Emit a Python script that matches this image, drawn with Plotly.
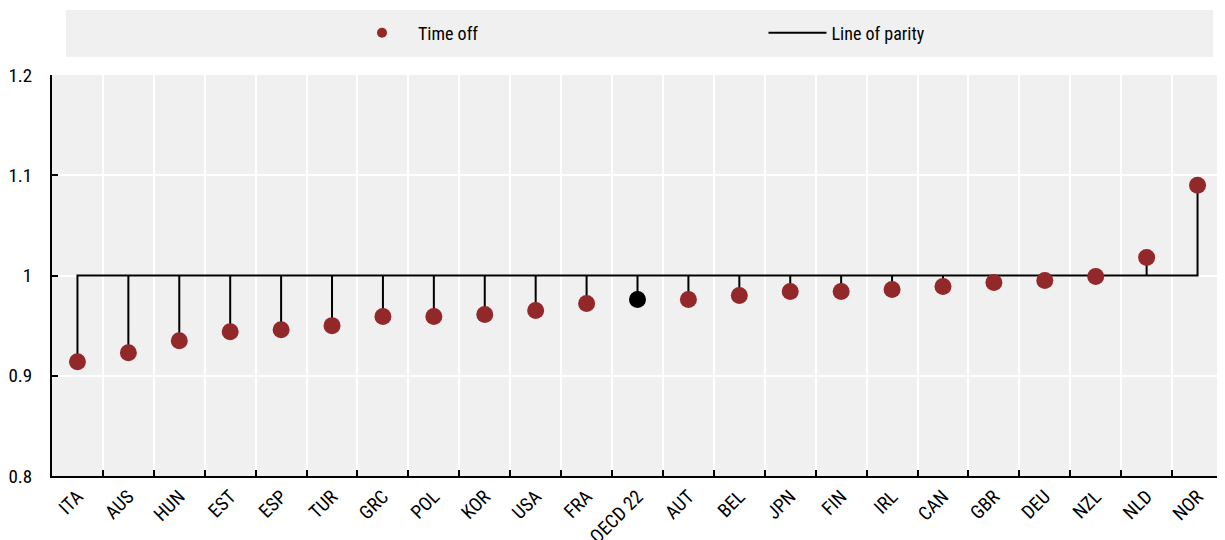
import plotly.graph_objects as go

countries = ["ITA", "AUS", "HUN", "EST", "ESP", "TUR", "GRC", "POL", "KOR", "USA", "FRA",
             "OECD 22", "AUT", "BEL", "JPN", "FIN", "IRL", "CAN", "GBR", "DEU", "NZL", "NLD", "NOR"]
time_off = [0.914, 0.923, 0.935, 0.944, 0.946, 0.950, 0.959, 0.959, 0.961, 0.965, 0.972,
            0.976, 0.976, 0.980, 0.984, 0.984, 0.986, 0.989, 0.993, 0.995, 0.999, 1.018, 1.090]
parity = 1.0
y_ticks = [0.8, 0.9, 1.0, 1.1, 1.2]
y_tick_text = ["0.8", "0.9", "1", "1.1", "1.2"]

RED = "#93282a"
FONT = "Roboto Condensed, Arial Narrow, Liberation Sans Narrow, Liberation Sans, sans-serif"

# parity line: horizontal line at 1 with drops to each point
lx, ly = [], []
for c, v in zip(countries, time_off):
    lx += [c, c, c]
    ly += [parity, v, parity]

colors = ["#000000" if c == "OECD 22" else RED for c in countries]

fig = go.Figure()
fig.add_trace(go.Scatter(x=lx, y=ly, mode="lines", line=dict(color="black", width=2),
                         name="Line of parity", showlegend=False, hoverinfo="skip"))
fig.add_trace(go.Scatter(x=countries, y=time_off, mode="markers",
                         marker=dict(color=colors, size=17), name="Time off", showlegend=False))
# legend entries
fig.add_trace(go.Scatter(x=[countries[0]], y=[None], mode="markers", marker=dict(color=RED, size=10),
                         name="Time off", legend="legend"))
fig.add_trace(go.Scatter(x=[countries[0]], y=[None], mode="lines", line=dict(color="black", width=2),
                         name="Line of parity", legend="legend2"))

# page body has an 8px margin: compensate so the plot lands where the reference has it
OFF = 8
W, H = 1225 - OFF, 540 - OFF
PL, PR, PT, PB = 52, 1223, 75, 476   # plot area in window pixels
L, R, T, B = PL - OFF, 1225 - PR, PT - OFF, 540 - PB
pw, ph = PR - PL, PB - PT

def px_x(x):
    return (x - PL) / pw

def px_y(y):
    return (PB - y) / ph

fig.add_shape(type="rect", xref="paper", yref="paper",
              x0=px_x(66), x1=px_x(1213), y0=px_y(57), y1=px_y(10),
              fillcolor="#f0f0f0", line=dict(width=0), layer="below")

leg_common = dict(orientation="h", xanchor="left", yanchor="middle", y=px_y(33),
                  bgcolor="rgba(0,0,0,0)", font=dict(size=18))
fig.update_layout(
    width=W, height=H,
    margin=dict(l=L, r=R, t=T, b=B),
    paper_bgcolor="white", plot_bgcolor="#f0f0f0",
    font=dict(family=FONT, size=18, color="#000"),
    legend=dict(x=px_x(346), itemwidth=62, **leg_common),
    legend2=dict(x=px_x(763.5), itemwidth=58, **leg_common),
    showlegend=True,
    xaxis=dict(type="category", categoryorder="array", categoryarray=countries,
               range=[-0.5, len(countries) - 0.5], automargin=False,
               tickson="boundaries", showgrid=True, gridcolor="white", gridwidth=2,
               showline=True, linecolor="black", linewidth=2,
               ticks="inside", ticklen=6, tickwidth=2, tickcolor="black",
               tickangle=-45, tickfont=dict(size=19), zeroline=False),
    yaxis=dict(range=[0.8, 1.2], tickvals=y_ticks, ticktext=y_tick_text, automargin=False,
               showgrid=True, gridcolor="white", gridwidth=2,
               showline=True, linecolor="black", linewidth=2,
               ticks="inside", ticklen=6, tickwidth=2, tickcolor="black",
               tickfont=dict(size=19), zeroline=False, ticklabelstandoff=14),
)

fig.write_html("out.html")
